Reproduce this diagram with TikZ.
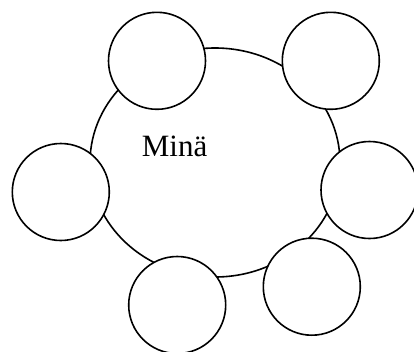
\documentclass[tikz,border=0pt]{standalone}
\usepackage{fontspec}
\setmainfont{Liberation Serif}
\usetikzlibrary{shapes.geometric}
\begin{document}
\begin{tikzpicture}[x=1pt,y=-1pt,
  bigring/.style={draw,ellipse,line width=1.6pt,minimum width=250pt,minimum height=229pt,inner sep=0pt},
  smallring/.style={draw,circle,fill=white,line width=1.6pt,minimum size=97pt,inner sep=0pt},
  label/.style={font=\fontsize{31}{36}\selectfont,inner sep=0pt}]
\useasboundingbox (0,0) rectangle (414,351);
\node[bigring] (me) at (215,162.5) {};
\node[label,anchor=base west] (mina) at (141.7,156.7) {Minä};
\node[smallring] (c1) at (157,60.8) {};
\node[smallring] (c2) at (330.8,60.8) {};
\node[smallring] (c3) at (60.8,192) {};
\node[smallring] (c4) at (369.5,190) {};
\node[smallring] (c5) at (311.8,286.7) {};
\node[smallring] (c6) at (177.2,305) {};
\end{tikzpicture}
\end{document}
